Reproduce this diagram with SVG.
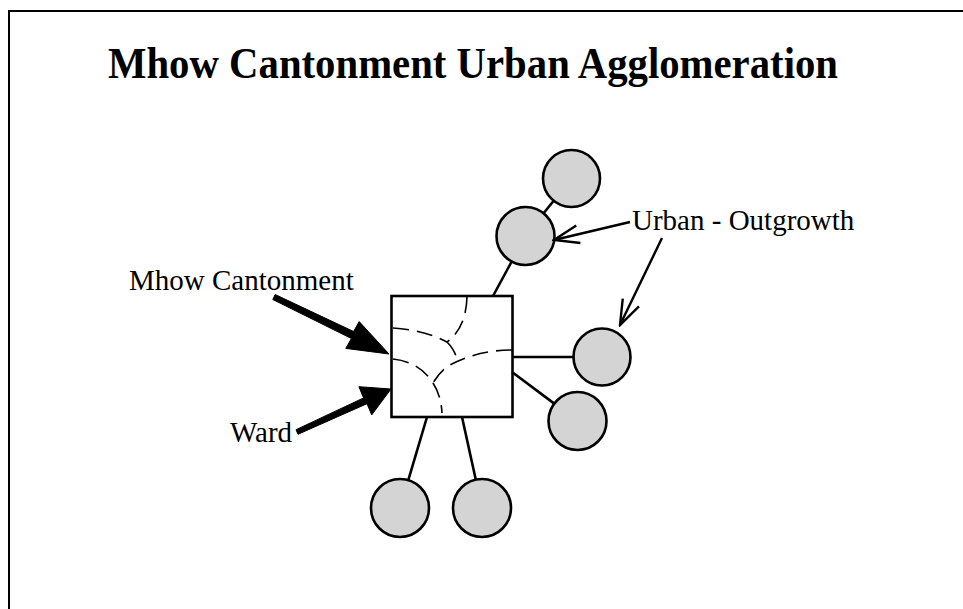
<svg xmlns="http://www.w3.org/2000/svg" width="963" height="609" viewBox="0 0 963 609">
<style>
.frame{fill:none;stroke:#000;stroke-width:2}
.title{font-family:"Liberation Serif","Times New Roman",serif;font-weight:bold;font-size:44px;fill:#000}
.lbl{font-family:"Liberation Serif","Times New Roman",serif;font-size:29px;fill:#000}
.box{fill:#fff;stroke:#000;stroke-width:2.6}
.ug{fill:#d4d4d4;stroke:#000;stroke-width:2.6}
.ward{fill:none;stroke:#000;stroke-width:1.6;stroke-dasharray:16 8}
.link{fill:none;stroke:#000;stroke-width:2.6}
.thin{fill:none;stroke:#000;stroke-width:2.4;marker-end:url(#open)}
.fat{fill:#000;stroke:#000;stroke-width:1;stroke-linejoin:miter}
</style>
<defs>
<marker id="open" viewBox="0 0 28 22" markerWidth="28" markerHeight="22" refX="26" refY="11" orient="auto" markerUnits="userSpaceOnUse">
<path d="M1,2 L26,11 L1,20" fill="none" stroke="#000" stroke-width="2.4"/>
</marker>
</defs>
<rect width="963" height="609" fill="#fff"/>
<path class="frame" d="M9,609 V11 H963"/>
<text class="title" x="108" y="78" textLength="730" lengthAdjust="spacingAndGlyphs">Mhow Cantonment Urban Agglomeration</text>

<g id="cantonment">
<rect class="box" x="391.5" y="296" width="121" height="121"/>
<g id="wards">
<path class="ward" d="M467,297 Q466,328 447,342"/>
<path class="ward" d="M393,328 Q425,330 447,342"/>
<path class="ward" d="M447,342 Q455,350 457,360"/>
<path class="ward" d="M512,350 Q478,350 450,365 Q440,371 433,383"/>
<path class="ward" d="M393,359 Q420,362 433,383"/>
<path class="ward" d="M433,383 Q441,395 442,413"/>
</g>
</g>
<g id="og1"><circle class="ug" cx="571.5" cy="178.5" r="28.5"/></g>
<g id="og2"><circle class="ug" cx="525.5" cy="236" r="29"/></g>
<g id="og3"><circle class="ug" cx="602" cy="357" r="28.5"/></g>
<g id="og4"><circle class="ug" cx="577.5" cy="421" r="29"/></g>
<g id="og5"><circle class="ug" cx="400" cy="508" r="29"/></g>
<g id="og6"><circle class="ug" cx="482" cy="508" r="29"/></g>

<g id="label-cantonment"><text class="lbl" x="129" y="290">Mhow Cantonment</text></g>
<g id="label-ward"><text class="lbl" x="230" y="442">Ward</text></g>
<g id="label-outgrowth"><text class="lbl" x="632" y="230">Urban - Outgrowth</text></g>

<g id="connectors">
<line class="link" x1="493" y1="296" x2="511.7" y2="261.5"/>
<line class="link" x1="543.6" y1="213.3" x2="553.7" y2="200.8"/>
<line class="link" x1="512" y1="357" x2="573.5" y2="357"/>
<line class="link" x1="512" y1="372" x2="554.3" y2="403.6"/>
<line class="link" x1="427" y1="417" x2="408.3" y2="480.2"/>
<line class="link" x1="462" y1="417" x2="475.8" y2="479.7"/>
<polygon class="fat" points="275.2,294.5 353.6,331.5 359.2,321.6 389,354 345.8,348.4 351.4,338.5 272.8,299.5"/>
<polygon class="fat" points="296,429.7 363.6,397.9 358.9,386.7 391,389 371.7,414.9 367,403.7 298,434.3"/>
<line class="thin" x1="630" y1="222" x2="554" y2="240"/>
<line class="thin" x1="662" y1="238" x2="620" y2="325"/>
</g>
</svg>
